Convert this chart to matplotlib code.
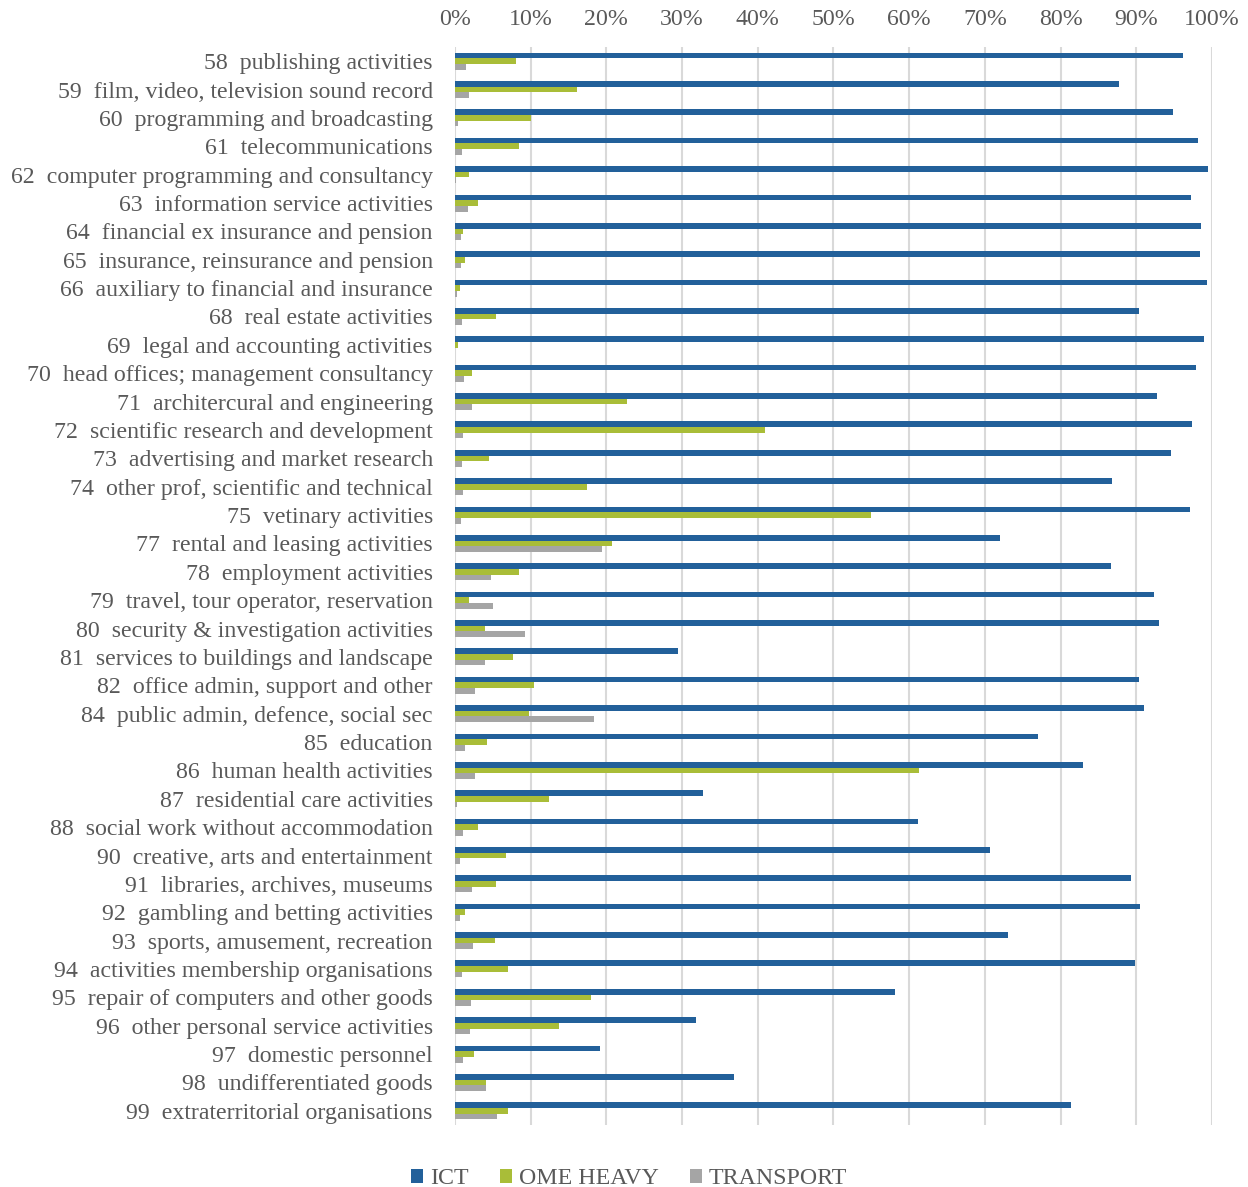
import numpy as np
import matplotlib
matplotlib.use("Agg")
import matplotlib.pyplot as plt
from matplotlib.patches import Patch

plt.rcParams['font.family'] = ['Liberation Serif', 'DejaVu Serif']

categories = [
    "58  publishing activities",
    "59  film, video, television sound record",
    "60  programming and broadcasting",
    "61  telecommunications",
    "62  computer programming and consultancy",
    "63  information service activities",
    "64  financial ex insurance and pension",
    "65  insurance, reinsurance and pension",
    "66  auxiliary to financial and insurance",
    "68  real estate activities",
    "69  legal and accounting activities",
    "70  head offices; management consultancy",
    "71  architercural and engineering",
    "72  scientific research and development",
    "73  advertising and market research",
    "74  other prof, scientific and technical",
    "75  vetinary activities",
    "77  rental and leasing activities",
    "78  employment activities",
    "79  travel, tour operator, reservation",
    "80  security & investigation activities",
    "81  services to buildings and landscape",
    "82  office admin, support and other",
    "84  public admin, defence, social sec",
    "85  education",
    "86  human health activities",
    "87  residential care activities",
    "88  social work without accommodation",
    "90  creative, arts and entertainment",
    "91  libraries, archives, museums",
    "92  gambling and betting activities",
    "93  sports, amusement, recreation",
    "94  activities membership organisations",
    "95  repair of computers and other goods",
    "96  other personal service activities",
    "97  domestic personnel",
    "98  undifferentiated goods",
    "99  extraterritorial organisations",
]

# shares in percent
ict = [96.2, 87.7, 94.9, 98.1, 99.5, 97.2, 98.6, 98.4, 99.3, 90.3,
       99.0, 97.9, 92.7, 97.4, 94.6, 86.8, 97.1, 72.0, 86.7, 92.4,
       93.0, 29.4, 90.4, 91.0, 77.0, 83.0, 32.7, 61.2, 70.7, 89.3,
       90.5, 73.0, 89.8, 58.1, 31.8, 19.1, 36.8, 81.4]
ome_heavy = [8.1, 16.1, 10.1, 8.4, 1.9, 3.0, 1.1, 1.3, 0.6, 5.4,
             0.35, 2.3, 22.7, 41.0, 4.5, 17.5, 55.0, 20.7, 8.4, 1.9,
             4.0, 7.65, 10.5, 9.8, 4.2, 61.3, 12.4, 3.1, 6.8, 5.4,
             1.3, 5.3, 7.0, 18.0, 13.8, 2.5, 4.1, 7.0]
transport = [1.5, 1.9, 0.4, 0.9, 0.1, 1.7, 0.8, 0.75, 0.3, 0.9,
             0.05, 1.2, 2.3, 1.0, 0.9, 1.0, 0.75, 19.4, 4.75, 5.0,
             9.2, 3.9, 2.6, 18.3, 1.3, 2.6, 0.2, 1.0, 0.6, 2.2,
             0.66, 2.4, 0.9, 2.15, 2.0, 1.0, 4.1, 5.6]

series_names = ["ICT", "OME HEAVY", "TRANSPORT"]
colors = ["#22609A", "#A9BD38", "#A5A5A5"]
text_col = "#595959"
fs = 17.2

fig = plt.figure(figsize=(12.48, 11.87), dpi=100)
ax = fig.add_axes([455 / 1248, 1 - 1125 / 1187, 757 / 1248, 1078 / 1187])

y = np.arange(len(categories))
h = 0.2
for vals, off, c in zip([ict, ome_heavy, transport], [-h, 0, h], colors):
    ax.barh(y + off, vals, height=h, color=c, zorder=3)

ax.set_ylim(len(categories) - 0.5, -0.5)
ax.set_xlim(0, 100)
ax.set_xticks(np.arange(0, 101, 10))
ax.set_xticklabels([f"{v}%" for v in range(0, 101, 10)])
ax.xaxis.tick_top()
ax.set_yticks(y)
ax.set_yticklabels(categories)

ax.grid(axis='x', color="#D9D9D9", linewidth=1.5, zorder=0)
for s in ax.spines.values():
    s.set_visible(False)
ax.tick_params(axis='x', length=0, pad=12, labelsize=fs, labelcolor=text_col)
ax.tick_params(axis='y', length=0, pad=16, labelsize=fs, labelcolor=text_col)

handles = [Patch(facecolor=c, edgecolor='none') for c in colors]
fig.legend(handles, series_names, loc='lower center', bbox_to_anchor=(0.504, -0.02),
           ncol=3, frameon=False, fontsize=fs, labelcolor=text_col,
           handlelength=0.5, handleheight=0.5, handletextpad=0.3, columnspacing=1.3)

fig.savefig("out.png", dpi=100, facecolor="white")
